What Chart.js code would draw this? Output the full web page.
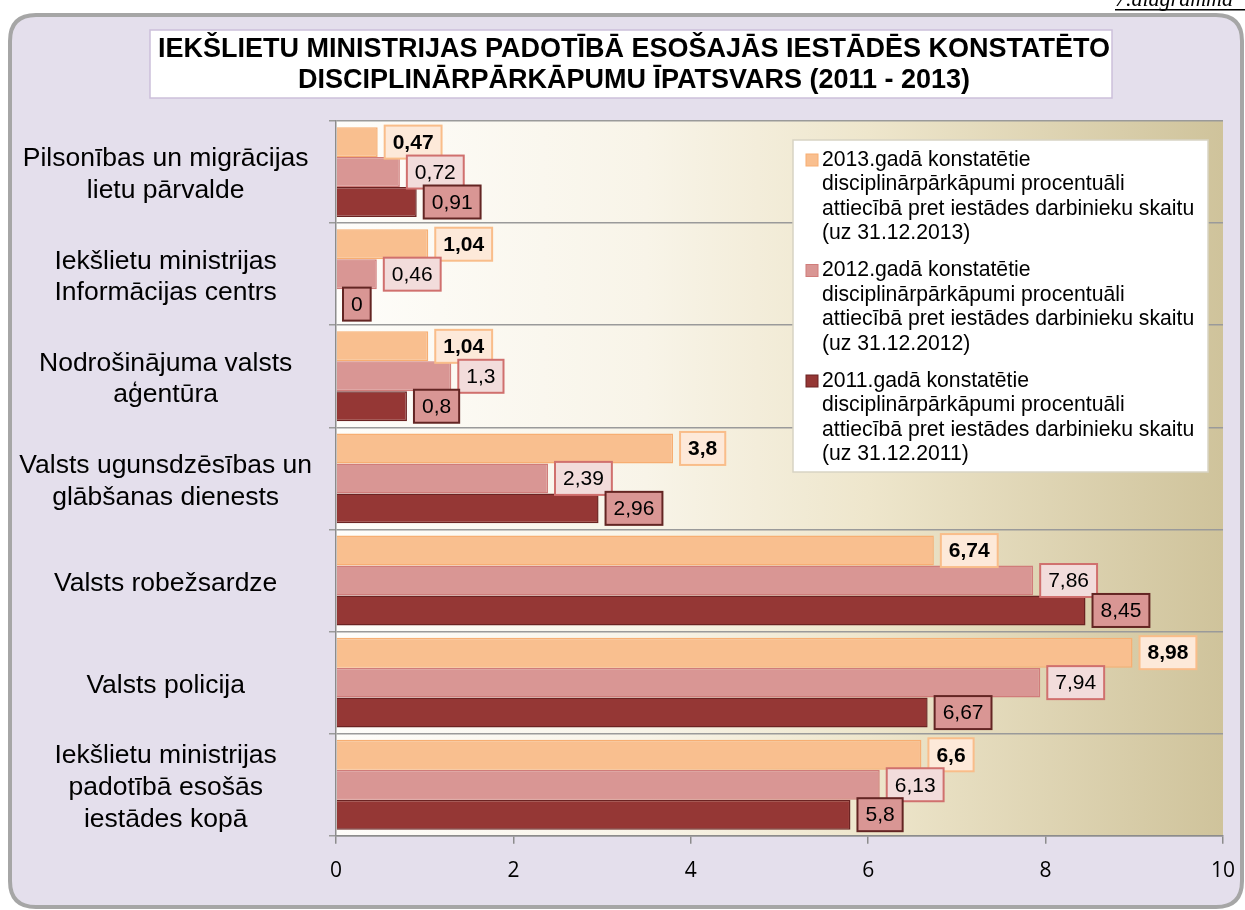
<!DOCTYPE html>
<html>
<head>
<meta charset="utf-8">
<script src="https://cdn.jsdelivr.net/npm/chart.js@4.4.1/dist/chart.umd.min.js"></script>
<style>
  html, body { margin: 0; padding: 0; background: #fff; }
  #wrap { position: relative; width: 1245px; height: 910px; }
</style>
</head>
<body>
<div id="wrap"><canvas id="chart" width="1245" height="910"></canvas></div>
<script>
const CATEGORIES = [
    ['Pilsonības un migrācijas', 'lietu pārvalde'],
    ['Iekšlietu ministrijas', 'Informācijas centrs'],
    ['Nodrošinājuma valsts', 'aģentūra'],
    ['Valsts ugunsdzēsības un', 'glābšanas dienests'],
    'Valsts robežsardze',
    'Valsts policija',
    ['Iekšlietu ministrijas', 'padotībā esošās', 'iestādes kopā']
];
const Y2013 = [0.47, 1.04, 1.04, 3.8, 6.74, 8.98, 6.6];
const Y2012 = [0.72, 0.46, 1.3, 2.39, 7.86, 7.94, 6.13];
const Y2011 = [0.91, 0, 0.8, 2.96, 8.45, 6.67, 5.8];
const X_TICKS = [0, 2, 4, 6, 8, 10];

const TITLE = ['IEKŠLIETU MINISTRIJAS PADOTĪBĀ ESOŠAJĀS IESTĀDĒS KONSTATĒTO',
               'DISCIPLINĀRPĀRKĀPUMU ĪPATSVARS (2011 - 2013)'];
const LEGEND_TEXT = [
    ['2013.gadā konstatētie', 'disciplinārpārkāpumi procentuāli', 'attiecībā pret iestādes darbinieku skaitu', '(uz 31.12.2013)'],
    ['2012.gadā konstatētie', 'disciplinārpārkāpumi procentuāli', 'attiecībā pret iestādes darbinieku skaitu', '(uz 31.12.2012)'],
    ['2011.gadā konstatētie', 'disciplinārpārkāpumi procentuāli', 'attiecībā pret iestādes darbinieku skaitu', '(uz 31.12.2011)']
];

const FILL = ['#f9bf8f', '#d99694', '#953735'];
const EDGE = ['#f7ae72', '#d07c7a', '#6b2322'];
const LABEL_BG = ['#fde9d9', '#f2dcdb', '#d99694'];
const LABEL_EDGE = ['#f9bd8a', '#d0706e', '#632523'];
const FONT = '"Liberation Sans", Arial, sans-serif';

function fmt(v) { return String(v).replace('.', ','); }

function roundRect(ctx, x, y, w, h, r) {
    ctx.beginPath();
    ctx.moveTo(x + r, y);
    ctx.lineTo(x + w - r, y);
    ctx.quadraticCurveTo(x + w, y, x + w, y + r);
    ctx.lineTo(x + w, y + h - r);
    ctx.quadraticCurveTo(x + w, y + h, x + w - r, y + h);
    ctx.lineTo(x + r, y + h);
    ctx.quadraticCurveTo(x, y + h, x, y + h - r);
    ctx.lineTo(x, y + r);
    ctx.quadraticCurveTo(x, y, x + r, y);
    ctx.closePath();
}

// frame, title box, plot gradient
const backdrop = {
    id: 'backdrop',
    beforeDraw(chart) {
        const ctx = chart.ctx, a = chart.chartArea;
        ctx.save();
        ctx.fillStyle = '#ffffff';
        ctx.fillRect(0, 0, chart.width, chart.height);

        ctx.font = 'italic 22px "Liberation Serif", serif';
        ctx.fillStyle = '#000';
        ctx.textBaseline = 'alphabetic';
        ctx.fillText('7.diagramma', 1115, 6);
        ctx.fillRect(1115, 9, 135, 1.5);

        roundRect(ctx, 10, 15, 1232, 892, 26);
        ctx.fillStyle = '#e4dfec';
        ctx.fill();
        ctx.lineWidth = 4;
        ctx.strokeStyle = '#a6a6a6';
        ctx.stroke();

        ctx.fillStyle = '#ffffff';
        ctx.fillRect(150, 30, 962, 68);
        ctx.lineWidth = 1.5;
        ctx.strokeStyle = '#ccc0da';
        ctx.strokeRect(150, 30, 962, 68);

        ctx.font = 'bold 27px ' + FONT;
        ctx.fillStyle = '#000';
        ctx.textAlign = 'center';
        ctx.textBaseline = 'middle';
        ctx.fillText(TITLE[0], 634, 50);
        ctx.fillText(TITLE[1], 634, 81);

        const g = ctx.createLinearGradient(a.left, 0, a.right, 0);
        g.addColorStop(0, '#fefdfa');
        g.addColorStop(0.35, '#f8f4e8');
        g.addColorStop(0.6, '#eee6cc');
        g.addColorStop(1, '#cfc39b');
        ctx.fillStyle = g;
        ctx.fillRect(a.left, a.top, a.right - a.left, a.bottom - a.top);
        ctx.restore();
    }
};

// value boxes at the bar ends
const valueBoxes = {
    id: 'valueBoxes',
    afterDatasetsDraw(chart) {
        const ctx = chart.ctx;
        ctx.save();
        chart.data.datasets.forEach((ds, i) => {
            const meta = chart.getDatasetMeta(i);
            meta.data.forEach((bar, j) => {
                const txt = fmt(ds.data[j]);
                ctx.font = (i === 0 ? 'bold ' : '') + '21px ' + FONT;
                const w = ctx.measureText(txt).width + 16;
                const h = 33;
                const x = bar.x + 7, y = bar.y - h / 2;
                ctx.fillStyle = LABEL_BG[i];
                ctx.fillRect(x, y, w, h);
                ctx.lineWidth = 2;
                ctx.strokeStyle = LABEL_EDGE[i];
                ctx.strokeRect(x, y, w, h);
                ctx.fillStyle = '#000';
                ctx.textAlign = 'center';
                ctx.textBaseline = 'middle';
                ctx.fillText(txt, x + w / 2, bar.y + 1);
            });
        });
        ctx.restore();
    }
};

// legend box inside the plot
const legendBox = {
    id: 'legendBox',
    afterDraw(chart) {
        const ctx = chart.ctx;
        const bx = 793, by = 140, bw = 415, bh = 332;
        ctx.save();
        ctx.fillStyle = '#ffffff';
        ctx.fillRect(bx, by, bw, bh);
        ctx.lineWidth = 1.5;
        ctx.strokeStyle = '#d8d4c4';
        ctx.strokeRect(bx, by, bw, bh);
        ctx.font = '21.2px ' + FONT;
        ctx.textAlign = 'left';
        ctx.textBaseline = 'middle';
        LEGEND_TEXT.forEach((lines, i) => {
            const y0 = by + 20 + i * 110.5;
            ctx.fillStyle = FILL[i];
            ctx.fillRect(806, y0 - 6, 12, 12);
            ctx.lineWidth = 1;
            ctx.strokeStyle = EDGE[i];
            ctx.strokeRect(806, y0 - 6, 12, 12);
            ctx.fillStyle = '#000';
            lines.forEach((t, k) => ctx.fillText(t, 822, y0 + k * 24.5));
        });
        ctx.restore();
    }
};

const datasets = [Y2013, Y2012, Y2011].map((d, i) => ({
    label: LEGEND_TEXT[i].join(' '),
    data: d,
    backgroundColor: FILL[i],
    borderColor: EDGE[i],
    borderWidth: 1.5,
    categoryPercentage: 0.88,
    barPercentage: 1.0
}));

new Chart(document.getElementById('chart'), {
    type: 'bar',
    data: { labels: CATEGORIES, datasets: datasets },
    options: {
        indexAxis: 'y',
        responsive: false,
        animation: false,
        events: [],
        layout: { padding: { top: 121, left: 10, right: 22, bottom: 11 } },
        plugins: {
            legend: { display: false },
            tooltip: { enabled: false },
            title: { display: false }
        },
        scales: {
            x: {
                min: 0,
                max: 10,
                afterBuildTicks: (s) => { s.ticks = X_TICKS.map(v => ({ value: v })); },
                afterFit: (s) => { s.paddingLeft = 0; s.paddingRight = 0; },
                grid: { drawOnChartArea: false, drawTicks: true, tickLength: 8, color: '#8c8c8c', lineWidth: 1.5 },
                border: { display: true, color: '#8c8c8c', width: 1.5 },
                ticks: { color: '#000', padding: 15, font: { family: '"Open Sans", sans-serif', size: 21 } }
            },
            y: {
                afterFit: (s) => { s.width = 326; },
                grid: { drawOnChartArea: true, drawTicks: true, tickLength: 7, color: '#9a9a9a', lineWidth: 1.5 },
                border: { display: true, color: '#8c8c8c', width: 1.5 },
                ticks: {
                    color: '#000',
                    crossAlign: 'center',
                    padding: 17,
                    labelOffset: 3,
                    font: { family: FONT, size: 26.5, lineHeight: 1.2 }
                }
            }
        }
    },
    plugins: [backdrop, valueBoxes, legendBox]
});
</script>
</body>
</html>
